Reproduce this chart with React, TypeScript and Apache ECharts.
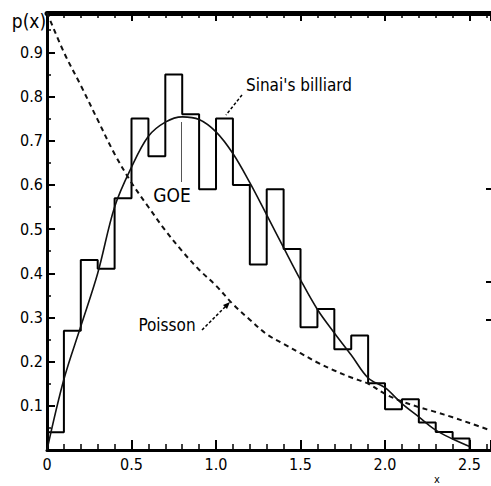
import React, { useEffect, useRef } from "react";
import * as echarts from "echarts";

// Level-spacing histogram for Sinai's billiard (bin width 0.1, starting at x = 0)
const binWidth = 0.1;
const histValues = [
  0.04, 0.27, 0.43, 0.41, 0.57, 0.75, 0.665, 0.85, 0.76, 0.59,
  0.75, 0.6, 0.42, 0.59, 0.455, 0.278, 0.319, 0.228, 0.259, 0.151,
  0.092, 0.115, 0.062, 0.041, 0.026,
];

// GOE prediction
const goeX = [0, 0.1, 0.2, 0.3, 0.4, 0.5, 0.6, 0.7, 0.8, 0.9, 1.0, 1.1, 1.2, 1.3, 1.4, 1.5, 1.6, 1.7, 1.8, 1.9, 2.0, 2.1, 2.2, 2.3, 2.4, 2.5];
const goeY = [0, 0.16, 0.28, 0.4, 0.55, 0.64, 0.71, 0.742, 0.754, 0.748, 0.72, 0.671, 0.605, 0.532, 0.458, 0.385, 0.318, 0.265, 0.215, 0.163, 0.141, 0.105, 0.075, 0.045, 0.025, 0.008];

// Poisson prediction
const poissonX = [0, 0.1, 0.2, 0.3, 0.4, 0.5, 0.6, 0.7, 0.8, 0.9, 1.0, 1.1, 1.2, 1.3, 1.4, 1.5, 1.6, 1.7, 1.8, 1.9, 2.0, 2.1, 2.2, 2.3, 2.4, 2.5, 2.62];
const poissonY = [0.99, 0.9, 0.825, 0.747, 0.67, 0.605, 0.55, 0.497, 0.45, 0.408, 0.372, 0.33, 0.295, 0.262, 0.24, 0.219, 0.198, 0.18, 0.164, 0.15, 0.127, 0.11, 0.097, 0.086, 0.074, 0.061, 0.045];

const xTickLabels = ["0", "0.5", "1.0", "1.5", "2.0", "2.5"];
const yTickLabels = ["0.1", "0.2", "0.3", "0.4", "0.5", "0.6", "0.7", "0.8", "0.9"];

const FONT = "'Liberation Sans Narrow', 'DejaVu Sans Condensed', 'Liberation Sans', sans-serif";

function histogramOutline(): number[][] {
  const pts: number[][] = [[0, 0]];
  histValues.forEach((v, i) => {
    pts.push([i * binWidth, v]);
    pts.push([(i + 1) * binWidth, v]);
  });
  pts.push([histValues.length * binWidth, 0]);
  return pts;
}

export default function App() {
  const ref = useRef<HTMLDivElement>(null);

  useEffect(() => {
    if (!ref.current) return;
    const chart = echarts.init(ref.current, null, { renderer: "svg" });

    const xLabel = (v: number) => {
      const idx = Math.round(v / 0.5);
      return Math.abs(v - idx * 0.5) < 1e-6 && idx < xTickLabels.length ? xTickLabels[idx] : "";
    };
    const yLabel = (v: number) => {
      const idx = Math.round(v / 0.1);
      return Math.abs(v - idx * 0.1) < 1e-6 && idx >= 1 && idx <= yTickLabels.length ? yTickLabels[idx - 1] : "";
    };

    chart.setOption({
      animation: false,
      backgroundColor: "#ffffff",
      grid: { left: 47, right: 0, top: 13, bottom: 36, containLabel: false },
      xAxis: [
        {
          type: "value",
          position: "bottom",
          min: 0,
          max: 2.627,
          interval: 0.5,
          axisLine: { show: true, onZero: false, lineStyle: { color: "#000", width: 3 } },
          axisTick: { show: true, inside: true, length: 10, lineStyle: { color: "#000", width: 2 } },
          minorTick: { show: true, splitNumber: 5, length: 6, lineStyle: { color: "#000", width: 1.5 } },
          splitLine: { show: false },
          axisLabel: {
            formatter: xLabel,
            color: "#000",
            fontFamily: FONT,
            fontSize: 16,
            margin: 6,
            showMaxLabel: false,
          },
        },
        {
          type: "value",
          position: "top",
          min: 0,
          max: 2.627,
          interval: 0.5,
          axisLine: { show: true, onZero: false, lineStyle: { color: "#000", width: 5 } },
          axisTick: { show: true, inside: true, length: 8, lineStyle: { color: "#000", width: 2 } },
          minorTick: { show: true, splitNumber: 5, length: 5, lineStyle: { color: "#000", width: 1.5 } },
          splitLine: { show: false },
          axisLabel: { show: false },
        },
      ],
      yAxis: {
        type: "value",
        min: 0,
        max: 0.989,
        interval: 0.1,
        axisLine: { show: true, onZero: false, lineStyle: { color: "#000", width: 3 } },
        axisTick: { show: true, inside: true, length: 8, lineStyle: { color: "#000", width: 2 } },
        minorTick: { show: true, splitNumber: 2, length: 4, lineStyle: { color: "#000", width: 1.5 } },
        splitLine: { show: false },
        axisLabel: {
          formatter: yLabel,
          color: "#000",
          fontFamily: FONT,
          fontSize: 16,
          margin: 4,
          showMaxLabel: false,
        },
      },
      series: [
        {
          name: "Sinai's billiard",
          type: "line",
          data: histogramOutline(),
          showSymbol: false,
          lineStyle: { color: "#000", width: 2 },
          z: 3,
        },
        {
          name: "GOE",
          type: "line",
          data: goeX.map((x, i) => [x, goeY[i]]),
          smooth: 0.35,
          showSymbol: false,
          lineStyle: { color: "#111", width: 1.6 },
          z: 4,
        },
        {
          name: "Poisson",
          type: "line",
          data: poissonX.map((x, i) => [x, poissonY[i]]),
          smooth: 0.35,
          showSymbol: false,
          lineStyle: { color: "#111", width: 2, type: [5, 4] },
          z: 4,
        },
      ],
      graphic: [
        {
          type: "text",
          x: 29,
          y: 21,
          style: { text: "p(x)", fontFamily: FONT, fontSize: 19, fill: "#000", textAlign: "center", textVerticalAlign: "middle" },
        },
        {
          type: "text",
          x: 437,
          y: 479,
          style: { text: "x", fontFamily: FONT, fontSize: 11, fill: "#000", textAlign: "center", textVerticalAlign: "middle" },
        },
        {
          type: "text",
          x: 299,
          y: 85,
          style: { text: "Sinai's billiard", fontFamily: FONT, fontSize: 17, fill: "#000", textAlign: "center", textVerticalAlign: "middle" },
        },
        {
          type: "line",
          shape: { x1: 242, y1: 95, x2: 226, y2: 115 },
          style: { stroke: "#000", lineWidth: 1.5, lineDash: [3, 2] },
        },
        {
          type: "text",
          x: 172,
          y: 195,
          style: { text: "GOE", fontFamily: FONT, fontSize: 19, fill: "#000", textAlign: "center", textVerticalAlign: "middle" },
        },
        {
          type: "line",
          shape: { x1: 181.5, y1: 122, x2: 181.5, y2: 182 },
          style: { stroke: "#555", lineWidth: 1 },
        },
        {
          type: "text",
          x: 167,
          y: 325,
          style: { text: "Poisson", fontFamily: FONT, fontSize: 17, fill: "#000", textAlign: "center", textVerticalAlign: "middle" },
        },
        {
          type: "line",
          shape: { x1: 202, y1: 330, x2: 226, y2: 306 },
          style: { stroke: "#000", lineWidth: 1.5, lineDash: [3, 2] },
        },
        {
          type: "polygon",
          shape: { points: [[230, 302], [227, 309], [223, 305]] },
          style: { fill: "#000" },
        },
        {
          type: "line",
          shape: { x1: 486, y1: 189, x2: 491, y2: 189 },
          style: { stroke: "#000", lineWidth: 2 },
        },
        {
          type: "line",
          shape: { x1: 486, y1: 282, x2: 491, y2: 282 },
          style: { stroke: "#000", lineWidth: 2 },
        },
        {
          type: "line",
          shape: { x1: 486, y1: 320, x2: 491, y2: 320 },
          style: { stroke: "#000", lineWidth: 2 },
        },
      ],
    });

    return () => chart.dispose();
  }, []);

  return (
    <div
      ref={ref}
      style={{ position: "fixed", left: 0, top: 0, width: 491, height: 486, background: "#fff" }}
    />
  );
}
